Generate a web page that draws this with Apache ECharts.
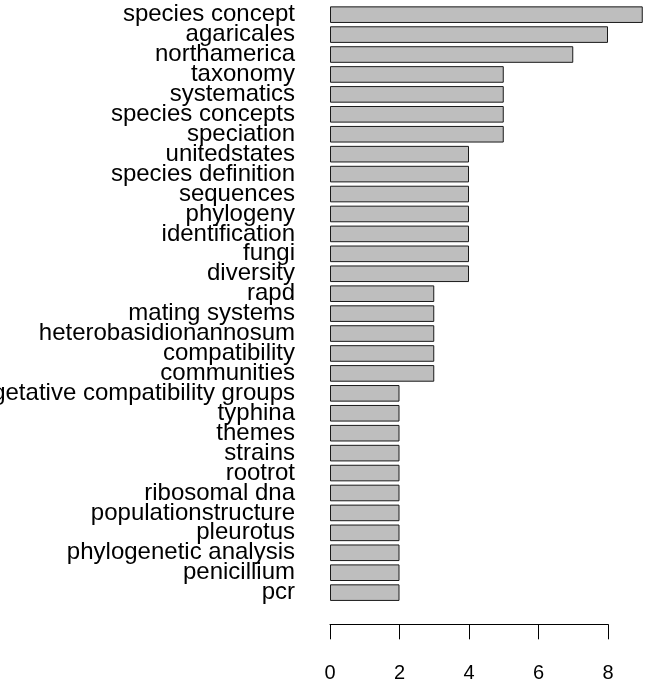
<!DOCTYPE html>
<html>
<head>
<meta charset="utf-8">
<script src="https://cdn.jsdelivr.net/npm/echarts@6/dist/echarts.min.js"></script>
<style>
html,body{margin:0;padding:0;background:#fff;}
#c{width:652px;height:688px;}
</style>
</head>
<body>
<div id="c"></div>
<script>
const categories = ["species concept","agaricales","northamerica","taxonomy","systematics","species concepts","speciation","unitedstates","species definition","sequences","phylogeny","identification","fungi","diversity","rapd","mating systems","heterobasidionannosum","compatibility","communities","vegetative compatibility groups","typhina","themes","strains","rootrot","ribosomal dna","populationstructure","pleurotus","phylogenetic analysis","penicillium","pcr"];
const counts = [9,8,7,5,5,5,5,4,4,4,4,4,4,4,3,3,3,3,3,2,2,2,2,2,2,2,2,2,2,2];
const xTicks = [0,2,4,6,8];

const chart = echarts.init(document.getElementById('c'), null, {renderer:'canvas'});
chart.setOption({
  backgroundColor:'#ffffff',
  animation:false,
  grid:{left:330, top:4.7, width:278, height:597.9, containLabel:false, outerBoundsMode:'none'},
  xAxis:{
    type:'value', min:xTicks[0], max:xTicks[xTicks.length-1], interval:2,
    offset:21.7,
    axisLine:{show:true, lineStyle:{color:'#000', width:1}},
    axisTick:{show:true, length:15, lineStyle:{color:'#000', width:1}},
    axisLabel:{show:true, margin:39, color:'#000', fontSize:20, fontFamily:'Liberation Sans, Arial, sans-serif',
      formatter:function(v){return xTicks.indexOf(v)>=0 ? String(v) : '';}},
    splitLine:{show:false}
  },
  yAxis:{
    type:'category', data:categories, inverse:true,
    axisLine:{show:false}, axisTick:{show:false},
    axisLabel:{show:true, interval:0, margin:35, color:'#000', fontSize:24, fontFamily:'Liberation Sans, Arial, sans-serif', padding:[4,0,0,0]},
    splitLine:{show:false}
  },
  series:[{
    type:'bar', data:counts, clip:false, barCategoryGap:'16.7%',
    itemStyle:{color:'#bebebe', borderColor:'#1a1a1a', borderWidth:1}
  }]
});
</script>
</body>
</html>
